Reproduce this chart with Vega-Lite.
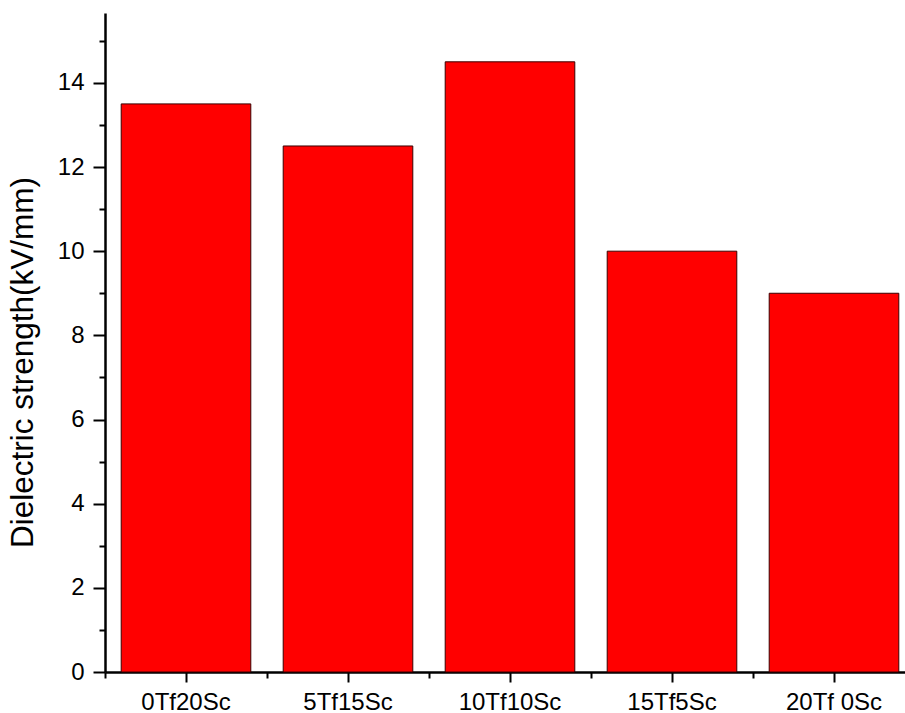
{
  "$schema": "https://vega.github.io/schema/vega-lite/v6.json",
  "autosize": {"type": "none"},
  "padding": {"left": 105, "top": 13, "right": 0, "bottom": 41},
  "width": 810,
  "height": 659,
  "background": "white",
  "config": {
    "view": {"stroke": null},
    "font": "Liberation Sans",
    "axis": {"grid": false, "domainColor": "black", "tickColor": "black", "labelColor": "black", "titleColor": "black", "labelFont": "Liberation Sans", "titleFont": "Liberation Sans"}
  },
  "data": {
    "values": [
      {"sample": "0Tf20Sc", "strength": 13.5},
      {"sample": "5Tf15Sc", "strength": 12.5},
      {"sample": "10Tf10Sc", "strength": 14.5},
      {"sample": "15Tf5Sc", "strength": 10.0},
      {"sample": "20Tf 0Sc", "strength": 9.0}
    ]
  },
  "resolve": {"axis": {"x": "independent", "y": "independent"}},
  "layer": [
    {
      "mark": {"type": "bar", "width": {"band": 0.8}, "fill": "#ff0000", "stroke": "#3a0000", "strokeWidth": 1},
      "encoding": {
        "x": {
          "field": "sample", "type": "nominal", "sort": null,
          "scale": {"paddingInner": 0, "paddingOuter": 0},
          "axis": {"orient": "bottom", "title": null, "labelAngle": 0, "labelFontSize": 24, "labelPadding": 8, "tickSize": 10, "tickWidth": 2, "domainWidth": 2.5}
        },
        "y": {
          "field": "strength", "type": "quantitative",
          "scale": {"domain": [0, 15.66], "nice": false, "zero": true},
          "axis": {"orient": "left", "values": [0, 2, 4, 6, 8, 10, 12, 14], "title": "Dielectric strength(kV/mm)", "titleFontSize": 31.5, "titleFontWeight": "normal", "titlePadding": 18, "titleY": 349, "labelFontSize": 24, "labelPadding": 9, "tickSize": 12, "tickWidth": 2, "domainWidth": 2.5}
        }
      }
    },
    {
      "mark": {"type": "bar", "width": {"band": 0.8}, "opacity": 0},
      "encoding": {
        "x": {
          "field": "sample", "type": "nominal", "sort": null,
          "axis": {"orient": "bottom", "title": null, "labels": false, "domain": false, "bandPosition": 0, "tickSize": 6, "tickWidth": 2}
        },
        "y": {
          "field": "strength", "type": "quantitative",
          "axis": {"orient": "left", "title": null, "labels": false, "domain": false, "values": [1, 3, 5, 7, 9, 11, 13, 15], "tickSize": 6, "tickWidth": 2}
        }
      }
    }
  ]
}
